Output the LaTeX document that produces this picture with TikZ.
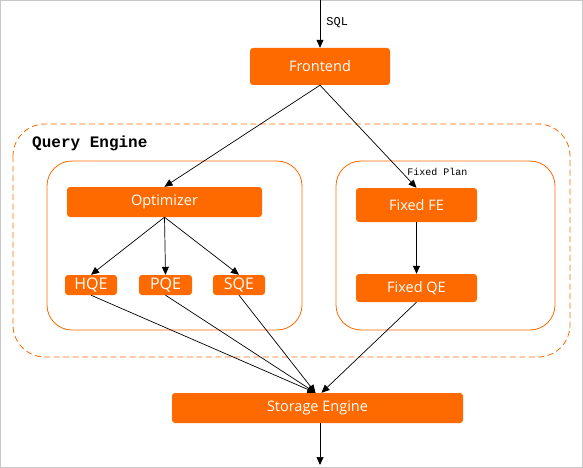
\documentclass[tikz,border=0pt]{standalone}
\usepackage{fontspec}
\setmainfont{Open Sans}
\setmonofont{Liberation Mono}
\usetikzlibrary{arrows.meta}
\definecolor{engorange}{HTML}{FF6A00}
\tikzset{
  block/.style={fill=engorange, text=white, rounded corners=3pt, inner sep=0pt,
    font=\fontsize{14.5}{16}\selectfont},
  small block/.style={block, font=\fontsize{16}{18}\selectfont},
  frame/.style={draw=engorange, rounded corners=25pt, line width=0.8pt},
  flow/.style={-{Triangle[length=8pt,width=7pt]}, line width=0.7pt},
}
\begin{document}
\begin{tikzpicture}[x=1pt,y=-1pt]
      \useasboundingbox (0,0) rectangle (583,468);
      \draw[black!22] (0.5,0.5) rectangle (582.5,467.5);
      % engine frames
      \draw[frame, dash pattern=on 6pt off 3.5pt, rounded corners=32pt] (13,124) rectangle (570,357);
      \draw[frame] (47,161) rectangle (302,330);
      \draw[frame] (336,161) rectangle (555,330);
      \draw (32,143) node[anchor=west, inner sep=0pt, font=\ttfamily\bfseries\fontsize{16}{18}\selectfont] (qe){Query Engine};
      \draw
        (320,66.5) node[block, minimum width=140pt, minimum height=37pt] (fe){Frontend}
        (164.5,202) node[block, minimum width=195pt, minimum height=30pt] (opt){Optimizer}
        (91,285) node[small block, minimum width=52pt, minimum height=20pt] (hqe){HQE}
        (165.5,285) node[small block, minimum width=53pt, minimum height=20pt] (pqe){PQE}
        (239,285) node[small block, minimum width=52pt, minimum height=20pt] (sqe){SQE}
        (416.5,205) node[block, minimum width=121pt, minimum height=34pt] (ffe){Fixed FE}
        (416.5,288) node[block, minimum width=121pt, minimum height=28pt] (fqe){Fixed QE}
        (317.5,408) node[block, minimum width=291pt, minimum height=30pt] (se){Storage Engine};
      \coordinate (sqlin) at (320,0);
      \coordinate (out) at (320,465);
      \begin{scope}[flow]
        \draw (sqlin) to node[pos=0.48, anchor=west, inner sep=6pt, font=\ttfamily\fontsize{12}{14}\selectfont] {SQL} (fe.north);
        \draw (fe.south) to (opt.north);
        \draw (fe.south) to node[pos=0.85, anchor=west, inner sep=5pt, font=\ttfamily\fontsize{10}{12}\selectfont] {Fixed Plan} (ffe.north);
        \draw (opt.south) to (hqe.north);
        \draw (opt.south) to (pqe.north);
        \draw (opt.south) to (sqe.north);
        \draw (ffe.south) to (fqe.north);
        \draw (hqe.south) to ([xshift=-2pt]se.north);
        \draw (pqe.south) to ([xshift=-2pt]se.north);
        \draw (sqe.south) to ([xshift=-2pt]se.north);
        \draw (fqe.south) to ([xshift=4pt]se.north);
        \draw ([xshift=2.5pt]se.south) to (out);
      \end{scope}
    \end{tikzpicture}
\end{document}
